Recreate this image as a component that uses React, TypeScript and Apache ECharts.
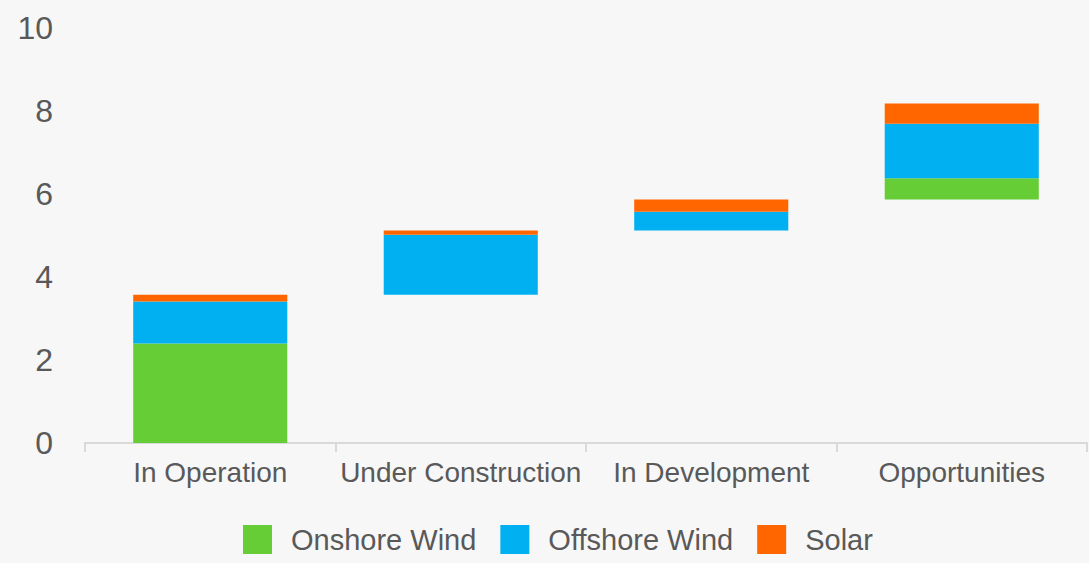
import React, { useEffect, useRef } from "react";
import * as echarts from "echarts";

const categories = ["In Operation", "Under Construction", "In Development", "Opportunities"];
const onshoreWind = [2.4, 0, 0, 0.51];
const offshoreWind = [1.01, 1.45, 0.45, 1.31];
const solar = [0.16, 0.1, 0.3, 0.49];

const seriesNames = ["Onshore Wind", "Offshore Wind", "Solar"];
const colors = ["#66cd36", "#00b0f0", "#ff6600"];

export default function App() {
  const ref = useRef<HTMLDivElement>(null);
  useEffect(() => {
    if (!ref.current) return;
    const chart = echarts.init(ref.current, null, { renderer: "svg" });
    // waterfall base: running sum of previous totals
    const base: number[] = [];
    let run = 0;
    for (let i = 0; i < categories.length; i++) {
      base.push(+run.toFixed(4));
      run += onshoreWind[i] + offshoreWind[i] + solar[i];
    }
    const font = "'Liberation Sans', Arial, Helvetica, sans-serif";
    chart.setOption({
      animation: false,
      backgroundColor: "#f7f7f7",
      textStyle: { fontFamily: font },
      grid: { left: 85, right: 2, top: 28, bottom: 120, containLabel: false },
      legend: {
        data: seriesNames,
        left: 238,
        top: 520,
        itemWidth: 29,
        itemHeight: 29,
        itemGap: 24,
        icon: "rect",
        textStyle: { fontSize: 29, color: "#595959", fontFamily: font, padding: [0, 0, 0, 14] },
      },
      xAxis: {
        type: "category",
        data: categories,
        axisLine: { show: true, lineStyle: { color: "#d9d9d9", width: 2 } },
        axisTick: { show: true, interval: 0, length: 9, lineStyle: { color: "#d9d9d9", width: 2 } },
        axisLabel: { interval: 0, fontSize: 28, color: "#595959", margin: 15, fontFamily: font },
      },
      yAxis: {
        type: "value",
        min: 0,
        max: 10,
        interval: 2,
        axisLine: { show: false },
        axisTick: { show: false },
        splitLine: { show: false },
        axisLabel: { fontSize: 32, color: "#595959", margin: 32, fontFamily: font },
      },
      series: [
        {
          name: "base",
          type: "bar",
          stack: "total",
          data: base,
          barWidth: "61.5%",
          itemStyle: { color: "transparent" },
          emphasis: { disabled: true },
          silent: true,
        },
        ...[onshoreWind, offshoreWind, solar].map((d, i) => ({
          name: seriesNames[i],
          type: "bar",
          stack: "total",
          data: d,
          barWidth: "61.5%",
          itemStyle: { color: colors[i] },
        })),
      ],
    });
    return () => chart.dispose();
  }, []);
  return (
    <div
      ref={ref}
      style={{ position: "fixed", left: 0, top: 0, width: 1089, height: 563 }}
    />
  );
}
